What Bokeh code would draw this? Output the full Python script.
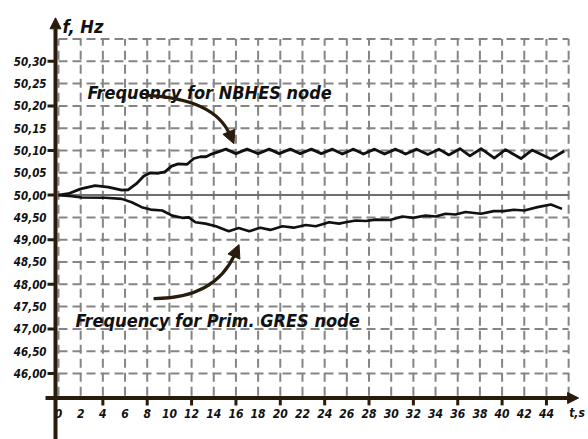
from bokeh.plotting import figure
from bokeh.models import Range1d, Arrow, NormalHead
from bokeh.core.properties import value
from bokeh.embed import file_html
from bokeh.resources import INLINE

# ---------------- data ----------------
t_nbhes = [0.0, 1.0, 2.0, 3.3, 4.5, 5.7, 6.3, 7.0, 7.7, 8.3, 9.0, 9.6, 10.2, 10.8,
           11.6, 12.2, 12.8, 13.3, 13.8, 14.4, 15.1, 16.0, 17.0, 18.0, 19.0, 19.9,
           20.9, 21.8, 22.8, 23.7, 24.7, 25.6, 26.6, 27.5, 28.5, 29.4, 30.4, 31.3,
           32.3, 33.3, 34.3, 35.2, 36.2, 37.1, 38.1, 39.3, 40.3, 41.7, 42.7, 44.4, 45.6]
f_nbhes = [50.000, 50.004, 50.014, 50.021, 50.018, 50.011, 50.012, 50.025, 50.043,
           50.050, 50.049, 50.052, 50.065, 50.070, 50.069, 50.082, 50.086, 50.086,
           50.092, 50.097, 50.103, 50.093, 50.103, 50.093, 50.103, 50.093, 50.103,
           50.093, 50.103, 50.093, 50.103, 50.092, 50.103, 50.092, 50.103, 50.092,
           50.103, 50.092, 50.103, 50.091, 50.103, 50.090, 50.104, 50.088, 50.104,
           50.083, 50.102, 50.082, 50.101, 50.081, 50.099]

t_gres = [0.0, 1.2, 2.1, 4.2, 5.7, 6.6, 7.5, 8.3, 9.35, 10.25, 11.15, 11.75, 12.35,
          13.25, 14.2, 15.35, 16.25, 17.2, 18.2, 19.1, 20.2, 21.2, 22.3, 23.2, 24.4,
          25.3, 25.9, 26.8, 27.7, 28.6, 29.9, 31.0, 32.0, 33.1, 34.0, 34.9, 35.8,
          36.7, 38.1, 39.25, 40.15, 41.05, 42.0, 43.2, 44.4, 45.4]
f_gres = [50.000, 49.975, 49.945, 49.940, 49.915, 49.840, 49.730, 49.675, 49.655,
          49.540, 49.490, 49.500, 49.390, 49.360, 49.300, 49.190, 49.260, 49.190,
          49.270, 49.220, 49.300, 49.270, 49.330, 49.300, 49.390, 49.360, 49.390,
          49.430, 49.420, 49.450, 49.440, 49.520, 49.490, 49.540, 49.520, 49.580,
          49.565, 49.620, 49.580, 49.640, 49.640, 49.670, 49.655, 49.730, 49.790, 49.690]

y_tick_values = [46.00, 46.50, 47.00, 47.50, 48.00, 48.50, 49.00, 49.50,
                 50.00, 50.05, 50.10, 50.15, 50.20, 50.25, 50.30]
y_tick_labels = ["46,00", "46,50", "47,00", "47,50", "48,00", "48,50", "49,00", "49,50",
                 "50,00", "50,05", "50,10", "50,15", "50,20", "50,25", "50,30"]
y_tick_marked = [46.00, 47.00, 48.00, 49.00, 50.00, 50.10, 50.20, 50.30]
x_tick_values = list(range(0, 45, 2))
x_tick_labels = [str(v) for v in x_tick_values]
x_tick_marked = list(range(4, 45, 4))
x_grid_values = list(range(0, 47, 2))

label_nbhes = "Frequency for NBHES node"
label_gres = "Frequency for Prim. GRES node"
y_title = "f, Hz"
x_title = "t,s"


def row(f):
    # piecewise frequency scale: 0.05 Hz per division above 50 Hz, 0.5 Hz per division below
    return 9.0 + (f - 50.0) / (0.05 if f >= 50.0 else 0.5)


FONT = "DejaVu Sans Condensed"
INK = "#111111"
AXIS = "#2a1c0c"
GRID = "#858585"

Y0, Y1 = -1.96, 17.726
p = figure(width=588, height=439, x_range=Range1d(-5.230, 47.791),
           y_range=Range1d(Y0, Y1), output_backend="svg",
           toolbar_location=None, min_border=0, x_axis_type=None, y_axis_type=None)
p.outline_line_color = None
p.background_fill_color = "white"

# ---------------- grid ----------------
y_bottom = row(45.5)
y_top = row(50.35)
g_rows = [row(v) for v in y_tick_values if v != 50.0] + [y_top]
p.segment(x0=[x_grid_values[0]] * len(g_rows), y0=g_rows,
          x1=[x_grid_values[-1]] * len(g_rows), y1=g_rows,
          line_color=GRID, line_width=2, line_dash="9 5")
p.segment(x0=x_grid_values, y0=[y_bottom] * len(x_grid_values),
          x1=x_grid_values, y1=[y_top] * len(x_grid_values),
          line_color=GRID, line_width=2, line_dash="9 5")
# nominal 50 Hz line
p.segment(x0=[x_grid_values[0]], y0=[row(50.0)], x1=[x_grid_values[-1]], y1=[row(50.0)],
          line_color="#6e6e6e", line_width=2)

# ---------------- curves ----------------
p.line(t_nbhes, [row(f) for f in f_nbhes], line_color=INK, line_width=2.8, line_join="round")
p.line(t_gres, [row(f) for f in f_gres], line_color=INK, line_width=2.6, line_join="round")

# ---------------- axes ----------------
ax_x = -0.27   # position of the vertical axis (t)
ax_y = -0.1    # position of the horizontal axis (row)
p.add_layout(Arrow(end=NormalHead(size=11, fill_color=AXIS, line_color=AXIS),
                   x_start=ax_x, y_start=Y0, x_end=ax_x, y_end=16.95,
                   line_color=AXIS, line_width=4))
p.add_layout(Arrow(end=NormalHead(size=11, fill_color=AXIS, line_color=AXIS),
                   x_start=-1.17, y_start=ax_y, x_end=46.9, y_end=ax_y,
                   line_color=AXIS, line_width=4))

# tick marks
p.segment(x0=[-0.99] * len(y_tick_marked), y0=[row(v) for v in y_tick_marked],
          x1=[ax_x] * len(y_tick_marked), y1=[row(v) for v in y_tick_marked],
          line_color=AXIS, line_width=3)
p.segment(x0=x_tick_marked, y0=[ax_y] * len(x_tick_marked),
          x1=x_tick_marked, y1=[ax_y - 0.33] * len(x_tick_marked),
          line_color=AXIS, line_width=3)

# tick labels
p.text(x=[-1.08] * len(y_tick_values), y=[row(v) for v in y_tick_values], text=y_tick_labels,
       text_font=value(FONT), text_font_size="11.5px", text_font_style="bold italic",
       text_align="right", text_baseline="middle", text_color=INK)
p.text(x=x_tick_values, y=[-0.79] * len(x_tick_values), text=x_tick_labels,
       text_font=value(FONT), text_font_size="12px", text_font_style="bold italic",
       text_align="center", text_baseline="middle", text_color=INK)

# axis titles
p.text(x=[0.36], y=[16.58], text=[y_title], text_font=value(FONT), text_font_size="18px",
       text_font_style="bold italic", text_align="left", text_baseline="alphabetic",
       text_color=INK)
p.text(x=[46.05], y=[-0.79], text=[x_title], text_font=value(FONT), text_font_size="12px",
       text_font_style="bold italic", text_align="left", text_baseline="middle",
       text_color=INK)

# ---------------- annotations ----------------
p.text(x=[2.61], y=[13.6], text=[label_nbhes], text_font=value(FONT), text_font_size="18px",
       text_font_style="bold italic", text_align="left", text_baseline="alphabetic",
       text_color=INK)
p.text(x=[1.53], y=[3.38], text=[label_gres], text_font=value(FONT), text_font_size="18px",
       text_font_style="bold italic", text_align="left", text_baseline="alphabetic",
       text_color=INK)

p.quadratic(x0=[7.84], y0=[13.47], cx=[14.16], cy=[13.33], x1=[15.5], y1=[11.65],
            line_color=AXIS, line_width=3.2)
p.add_layout(Arrow(end=NormalHead(size=13, fill_color=AXIS, line_color=AXIS),
                   x_start=15.4, y_start=11.8, x_end=15.82, y_end=11.3,
                   line_color=AXIS, line_width=3))
p.quadratic(x0=[8.57], y0=[4.36], cx=[14.16], cy=[4.35], x1=[15.95], y1=[6.4],
            line_color=AXIS, line_width=3.2)
p.add_layout(Arrow(end=NormalHead(size=13, fill_color=AXIS, line_color=AXIS),
                   x_start=15.85, y_start=6.28, x_end=16.28, y_end=6.78,
                   line_color=AXIS, line_width=3))

open("out.html", "w").write(file_html(p, INLINE))
